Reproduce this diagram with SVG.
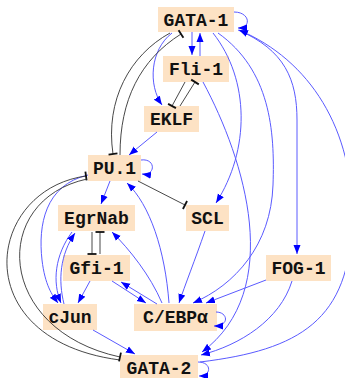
<svg xmlns="http://www.w3.org/2000/svg" width="345" height="378" viewBox="0 0 345 378">
  <defs>
    <style>
      .node rect { fill: #fde2c4; }
      .node text { font-family: "Liberation Mono", "Courier New", monospace; font-weight: bold; font-size: 18px; fill: #111; text-anchor: middle; }
      .act { fill: none; stroke: #5a5aff; stroke-width: 1; marker-end: url(#arrow); }
      .inh { fill: none; stroke: #333; stroke-width: 0.9; marker-end: url(#tbar); }
    </style>
    <marker id="arrow" viewBox="-9 -4 10 8" refX="0" refY="0" markerWidth="10" markerHeight="8" markerUnits="userSpaceOnUse" orient="auto">
      <path d="M-9,-3.5 L0,0 L-9,3.5 Z" fill="#0000ff"/>
    </marker>
    <marker id="tbar" viewBox="-2 -5 4 10" refX="0" refY="0" markerWidth="4" markerHeight="10" markerUnits="userSpaceOnUse" orient="auto">
      <path d="M0,-4.5 L0,4.5" stroke="#111" stroke-width="1.8"/>
    </marker>
  </defs>

  <!-- nodes -->
  <g id="GATA-1" class="node"><rect x="158" y="7" width="76" height="25"/><text x="196" y="25.5">GATA-1</text></g>
  <g id="Fli-1" class="node"><rect x="163" y="56" width="66" height="26"/><text x="196" y="74.5">Fli-1</text></g>
  <g id="EKLF" class="node"><rect x="144" y="106" width="55" height="26"/><text x="171.5" y="124.5">EKLF</text></g>
  <g id="PU.1" class="node"><rect x="88" y="155" width="53" height="26"/><text x="114.5" y="173.5">PU.1</text></g>
  <g id="EgrNab" class="node"><rect x="58" y="205" width="77" height="26"/><text x="96.5" y="223.5">EgrNab</text></g>
  <g id="SCL" class="node"><rect x="186" y="205" width="43" height="26"/><text x="207.5" y="223.5">SCL</text></g>
  <g id="Gfi-1" class="node"><rect x="63" y="255" width="67" height="26"/><text x="96.5" y="273.5">Gfi-1</text></g>
  <g id="FOG-1" class="node"><rect x="266" y="255" width="65" height="26"/><text x="298.5" y="273.5">FOG-1</text></g>
  <g id="cJun" class="node"><rect x="43" y="304" width="54" height="26"/><text x="70" y="322.5">cJun</text></g>
  <g id="CEBPa" class="node"><rect x="134" y="304" width="83" height="27"/><text x="175.5" y="322.5">C/EBPα</text></g>
  <g id="GATA-2" class="node"><rect x="120" y="355" width="78" height="26"/><text x="159" y="373.5">GATA-2</text></g>

  <!-- connectors -->
  <g id="edges">
    <!-- activations -->
    <path class="act" d="M234,12 C250,12 252,28 238,28"/>
    <path class="act" d="M192,32 L192,55"/>
    <path class="act" d="M200,56 L200,33"/>
    <path class="act" d="M172,33 C150,50 148,85 162,105"/>
    <path class="act" d="M213,33 C250,80 250,150 216,203"/>
    <path class="act" d="M218,33 C270,70 275,130 273,185 C271,245 235,285 193,303"/>
    <path class="act" d="M238,30 C285,50 297,80 297,120 L297,254"/>
    <path class="act" d="M203,82 C245,160 285,290 202,352"/>
    <path class="act" d="M200,362 C300,350 350,320 352,220 C354,130 310,60 239,30"/>
    <path class="act" d="M157,132 L129,155"/>
    <path class="act" d="M141,160 C156,158 156,176 142,174"/>
    <path class="act" d="M110,181 L101,204"/>
    <path class="act" d="M88,175 C45,185 38,225 42,260 C45,285 52,295 58,303"/>
    <path class="act" d="M72,232 C55,255 52,282 61,303"/>
    <path class="act" d="M64,304 C58,280 60,255 75,233"/>
    <path class="act" d="M90,281 L78,303"/>
    <path class="act" d="M169,303 C165,250 150,205 127,183"/>
    <path class="act" d="M162,303 C150,275 130,250 112,232"/>
    <path class="act" d="M112,281 L146,303"/>
    <path class="act" d="M157,304 L121,282"/>
    <path class="act" d="M205,231 C195,260 185,285 179,303"/>
    <path class="act" d="M266,280 L206,303"/>
    <path class="act" d="M216,312 C228,312 230,326 214,326"/>
    <path class="act" d="M93,330 L135,354"/>
    <path class="act" d="M292,281 C280,320 240,345 201,355"/>
    <path class="act" d="M198,362 C212,362 212,376 199,376"/>
    <!-- inhibitions -->
    <path class="inh" d="M170,33 C130,55 105,100 113,154"/>
    <path class="inh" d="M120,155 C120,100 140,60 181,34"/>
    <path class="inh" d="M180,106 L195,82"/>
    <path class="inh" d="M185,82 L172,106"/>
    <path class="inh" d="M138,181 L185,205"/>
    <path class="inh" d="M92,232 L92,254"/>
    <path class="inh" d="M100,254 L100,232"/>
    <path class="inh" d="M120,360 C-35,340 -15,190 86,176"/>
    <path class="inh" d="M87,179 C-10,200 -5,330 120,357"/>
  </g>
</svg>
